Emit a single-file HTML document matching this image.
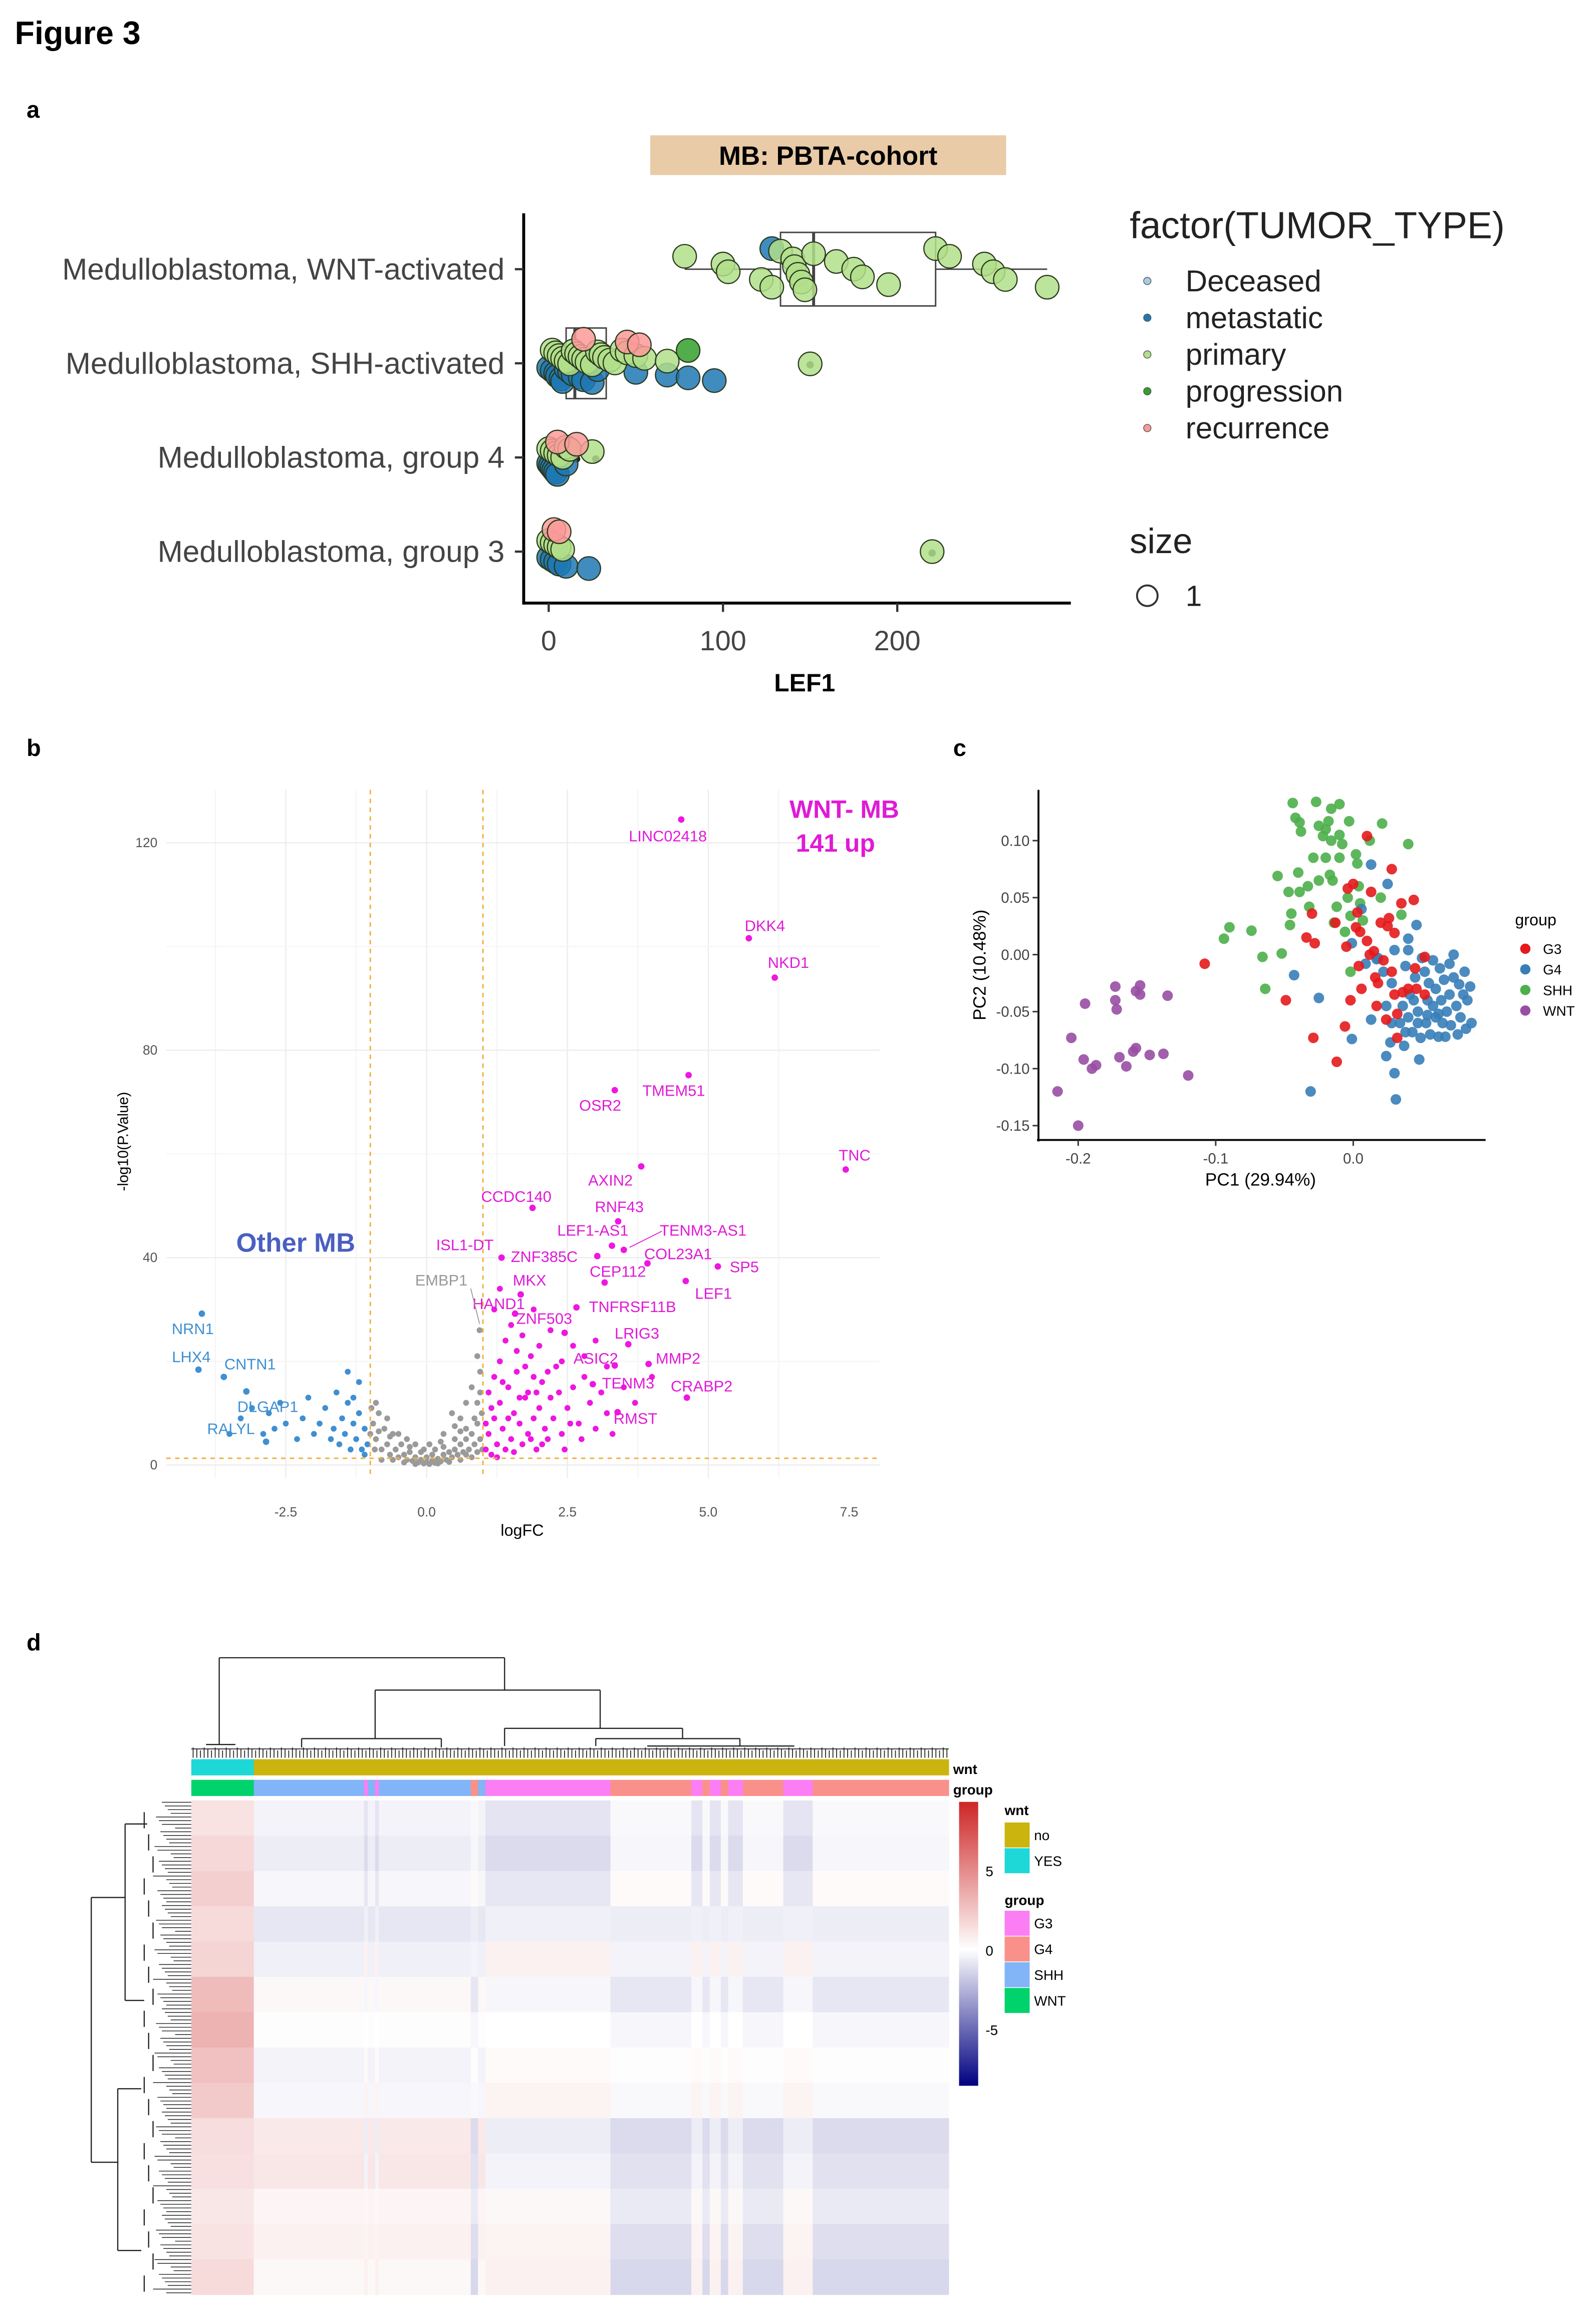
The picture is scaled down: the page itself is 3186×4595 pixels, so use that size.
<!DOCTYPE html>
<html><head><meta charset="utf-8"><style>
html,body{margin:0;padding:0;background:#fff;}
svg{display:block;font-family:"Liberation Sans",Arial,sans-serif;}
</style></head><body>
<svg id="fig" width="3186" height="4595" viewBox="0 0 1085 1565" xmlns="http://www.w3.org/2000/svg">
<rect width="1085" height="1565" fill="#fff"/>
<text x="10" y="30" font-size="22" font-weight="bold">Figure 3</text>
<text x="18" y="80" font-size="16" font-weight="bold">a</text>
<text x="18" y="514" font-size="16" font-weight="bold">b</text>
<text x="648" y="514" font-size="16" font-weight="bold">c</text>
<text x="18" y="1122" font-size="16" font-weight="bold">d</text>
<g id="pa"></g>
<g id="pb"></g>
<g id="pc"></g>
<g id="pd"></g>
</svg>
<script>
// ---------- Panel a data ----------
var aCategories = ["Medulloblastoma, WNT-activated","Medulloblastoma, SHH-activated","Medulloblastoma, group 4","Medulloblastoma, group 3"];
var aTypes = ["Deceased","metastatic","primary","progression","recurrence"];
var aTicks = [0,100,200];
var aWntPoints = [[128,"M"],[78,"P"],[100,"P"],[103,"P"],[122,"P"],[128,"P"],[133,"P"],[140,"P"],[141,"P"],[143,"P"],[145,"P"],[147,"P"],[152,"P"],[165,"P"],[175,"P"],[180,"P"],[195,"P"],[222,"P"],[230,"P"],[250,"P"],[255,"P"],[262,"P"],[286,"P"]];
var aShhPoints = [[0,"M"],[2,"M"],[4,"M"],[5,"M"],[7,"M"],[8,"M"],[10,"M"],[12,"M"],[14,"M"],[18,"M"],[20,"M"],[25,"M"],[28,"M"],[50,"M"],[68,"M"],[80,"M"],[95,"M"],[2,"P"],[4,"P"],[6,"P"],[8,"P"],[10,"P"],[12,"P"],[14,"P"],[16,"P"],[18,"P"],[20,"P"],[22,"P"],[25,"P"],[28,"P"],[30,"P"],[32,"P"],[35,"P"],[38,"P"],[42,"P"],[45,"P"],[50,"P"],[55,"P"],[68,"P"],[150,"P"],[20,"R"],[45,"R"],[52,"R"],[80,"G"]];
var aG4Points = [[0,"M"],[1,"M"],[2,"M"],[3,"M"],[4,"M"],[5,"M"],[10,"M"],[0,"P"],[2,"P"],[4,"P"],[6,"P"],[8,"P"],[10,"P"],[12,"P"],[25,"P"],[5,"R"],[16,"R"]];
var aG3Points = [[0,"M"],[2,"M"],[4,"M"],[6,"M"],[10,"M"],[23,"M"],[0,"P"],[2,"P"],[4,"P"],[6,"P"],[8,"P"],[220,"P"],[3,"R"],[6,"R"]];
var aBoxes = [[78,133,152,222,286],[0,10,15,33,55],[0,1,3,6,12],[0,1,3,5,8]];
var aOutliers = [[150,1],[16,2],[27,2],[220,3]];

// ---------- Panel b data ----------
var bXTicks = [-2.5,0.0,2.5,5.0,7.5];
var bYTicks = [0,40,80,120];
var bGrey = [[-0.95,8],[-0.9,5],[-0.85,10],[-0.8,3],[-0.75,7],[-0.7,4],[-0.65,2],[-0.6,6],[-0.55,3],[-0.5,1.5],[-0.45,4],[-0.4,2],[-0.35,1],[-0.3,2.5],[-0.25,0.8],[-0.2,1.5],[-0.15,0.5],[-0.1,1],[-0.05,0.3],[0,0.6],[0.05,0.2],[0.1,0.9],[0.15,0.4],[0.2,1.2],[0.25,0.7],[0.3,2],[0.35,1],[0.4,2.5],[0.45,1.5],[0.5,3],[0.55,2],[0.6,4],[0.65,2.5],[0.7,5],[0.75,3],[0.8,6],[0.85,4],[0.9,8],[0.95,5],[0.98,10],[-0.6,1],[-0.4,0.5],[-0.2,0.2],[0.2,0.3],[0.4,0.6],[0.6,1],[0.8,1.5],[-0.8,1],[-0.3,3.5],[0.3,3.5],[0.5,5],[0.7,7],[0.9,12],[-0.9,12],[0.1,2],[-0.1,2.5],[0.0,1.5],[0.6,6.5],[0.85,9],[0.95,14],[0.95,18],[0.9,21],[0.45,10],[0.05,4],[-0.5,6],[-0.7,9],[-1.0,6],[-0.98,11],[-0.92,3],[0.7,12],[0.8,15],[0.6,9],[0.3,6],[-0.2,4],[-0.35,5],[0.15,3],[0.25,4.5],[-0.05,3],[0.5,7.5],[0.7,2],[-0.65,5.5],[-0.85,6.5],[0.9,2.5],[0.99,3],[0.94,26]];
var bUp = [[1.05,3],[1.1,6],[1.15,2],[1.2,9],[1.25,4],[1.3,12],[1.35,7],[1.4,3],[1.45,15],[1.5,5],[1.55,10],[1.6,18],[1.65,8],[1.7,4],[1.75,13],[1.8,6],[1.85,21],[1.9,9],[1.95,3],[2.0,11],[2.05,16],[2.1,7],[2.15,5],[2.2,13],[2.25,9],[2.3,19],[2.4,6],[2.5,11],[2.6,15],[2.7,8],[2.8,17],[2.9,12],[3.0,7],[3.1,14],[3.2,10],[1.1,14],[1.2,17],[1.3,20],[1.4,24],[1.5,27],[1.6,22],[1.7,25],[1.8,14],[1.9,17],[2.0,23],[2.2,26],[2.4,20],[2.6,23],[2.8,21],[3.0,24],[3.2,19],[3.5,15],[3.7,12],[4.0,17],[1.05,8],[1.15,11],[1.25,1.5],[1.35,16],[1.45,9],[1.55,2.5],[1.65,13],[1.75,19],[1.85,5],[1.95,14],[2.05,4],[2.15,18],[2.35,14],[2.45,3],[2.55,8],[2.75,5],[3.3,6],[1.2,30],[1.3,34],[1.9,30]];
var bDown = [[-1.05,4],[-1.1,7],[-1.15,3],[-1.2,10],[-1.25,5],[-1.3,8],[-1.35,3],[-1.4,12],[-1.45,6],[-1.5,9],[-1.55,4],[-1.6,14],[-1.65,7],[-1.7,5],[-1.8,11],[-1.9,8],[-2.0,6],[-2.1,13],[-2.2,9],[-2.3,5],[-2.5,8],[-2.6,12],[-2.7,7],[-2.8,10],[-2.9,6],[-3.1,11],[-3.3,9],[-3.5,6],[-1.2,16],[-1.4,18],[-1.1,2],[-1.3,13]];
var bUpGenes = ["LINC02418","DKK4","NKD1","TMEM51","OSR2","TNC","AXIN2","RNF43","CCDC140","LEF1-AS1","ISL1-DT","ZNF385C","COL23A1","CEP112","SP5","MKX","LEF1","HAND1","TNFRSF11B","ZNF503","LRIG3","ASIC2","MMP2","TENM3","CRABP2","RMST","TENM3-AS1"];
var bUpLogFC = [4.52,5.72,6.18,4.65,3.34,7.44,3.81,3.4,1.88,3.29,1.33,3.03,3.92,3.16,5.17,1.67,4.6,1.57,2.66,2.45,3.58,3.34,3.94,2.95,4.62,3.39,3.5];
var bUpLogP = [124.5,101.6,94.0,75.2,72.3,57.0,57.6,47,49.6,42.3,40.0,40.3,38.9,35.2,38.3,32.9,35.5,29.2,30.4,25.5,23.3,19.2,19.5,15.6,13.0,10.2,41.5];
var bDownGenes = ["NRN1","LHX4","CNTN1","DLGAP1","RALYL"];
var bDownLogFC = [-3.99,-4.05,-3.6,-3.2,-2.85];
var bDownLogP = [29.2,18.4,17,14.2,4.5];

// ---------- Panel c data ----------
var cXTicks = [-0.2,-0.1,0.0];
var cYTicks = [0.10,0.05,0.00,-0.05,-0.10,-0.15];
var cGroups = ["G3","G4","SHH","WNT"];
var cWNT = [[-0.215,-0.12],[-0.2,-0.15],[-0.205,-0.073],[-0.196,-0.092],[-0.19,-0.1],[-0.187,-0.097],[-0.195,-0.043],[-0.173,-0.028],[-0.173,-0.04],[-0.172,-0.048],[-0.17,-0.09],[-0.165,-0.098],[-0.16,-0.085],[-0.158,-0.032],[-0.155,-0.027],[-0.155,-0.035],[-0.148,-0.088],[-0.138,-0.087],[-0.135,-0.036],[-0.12,-0.106],[-0.158,-0.082]];
var cSHH = [[-0.094,0.014],[-0.09,0.024],[-0.074,0.021],[-0.066,-0.002],[-0.052,0.001],[-0.064,-0.03],[-0.055,0.069],[-0.047,0.055],[-0.039,0.055],[-0.045,0.036],[-0.04,0.072],[-0.046,0.026],[-0.042,0.12],[-0.044,0.133],[-0.039,0.116],[-0.038,0.108],[-0.032,0.042],[-0.033,0.06],[-0.029,0.085],[-0.027,0.134],[-0.025,0.113],[-0.025,0.065],[-0.022,0.104],[-0.02,0.11],[-0.02,0.085],[-0.018,0.117],[-0.016,0.1],[-0.016,0.128],[-0.015,0.065],[-0.014,0.028],[-0.012,0.042],[-0.01,0.105],[-0.01,0.132],[-0.01,0.085],[-0.008,0.097],[-0.006,0.02],[-0.004,0.05],[-0.003,0.117],[-0.002,0.034],[0.002,0.088],[0.003,0.08],[0.005,0.045],[0.007,0.03],[0.012,0.1],[0.02,0.05],[0.021,0.115],[0.035,0.035],[0.04,0.097],[-0.002,-0.015],[-0.017,0.07],[0.004,0.06]];
var cG3 = [[-0.108,-0.008],[-0.049,-0.04],[-0.034,0.015],[-0.03,0.036],[-0.028,0.01],[-0.029,-0.073],[-0.013,0.028],[-0.012,-0.094],[-0.005,0.007],[-0.006,-0.063],[-0.004,0.058],[-0.002,-0.04],[0.0,0.062],[0.002,0.024],[0.003,0.037],[0.004,-0.01],[0.005,0.02],[0.006,-0.03],[0.01,0.012],[0.01,0.104],[0.013,0.055],[0.015,0.003],[0.016,-0.02],[0.017,-0.045],[0.018,-0.025],[0.02,0.028],[0.022,-0.005],[0.025,0.025],[0.026,0.032],[0.028,-0.015],[0.028,0.075],[0.03,0.019],[0.03,-0.035],[0.032,-0.052],[0.032,-0.073],[0.036,-0.033],[0.04,-0.03],[0.044,0.048],[0.045,-0.012],[0.046,-0.03],[0.052,-0.035],[0.052,-0.002],[0.035,0.045],[0.012,0.0],[0.024,-0.057]];
var cG4 = [[-0.043,-0.018],[-0.025,-0.038],[-0.031,-0.12],[-0.001,-0.074],[-0.001,0.01],[0.006,0.04],[0.009,-0.008],[0.013,0.079],[0.013,-0.057],[0.017,-0.004],[0.018,-0.003],[0.022,-0.015],[0.024,-0.045],[0.025,0.062],[0.024,-0.089],[0.027,-0.077],[0.028,-0.06],[0.028,-0.025],[0.03,-0.104],[0.031,-0.127],[0.03,0.004],[0.034,-0.06],[0.036,-0.045],[0.037,-0.08],[0.038,-0.01],[0.04,0.004],[0.04,-0.055],[0.04,0.014],[0.041,-0.035],[0.043,-0.068],[0.044,-0.04],[0.045,-0.02],[0.046,0.026],[0.047,-0.05],[0.048,-0.092],[0.049,-0.073],[0.05,-0.003],[0.052,-0.015],[0.053,-0.06],[0.054,-0.04],[0.055,-0.025],[0.056,-0.07],[0.058,-0.005],[0.058,-0.045],[0.06,-0.055],[0.06,-0.03],[0.062,-0.072],[0.063,-0.012],[0.064,-0.04],[0.065,-0.06],[0.066,-0.022],[0.067,-0.072],[0.068,-0.05],[0.07,-0.008],[0.07,-0.035],[0.071,-0.062],[0.073,-0.02],[0.073,0.0],[0.075,-0.045],[0.076,-0.07],[0.077,-0.026],[0.078,-0.055],[0.08,-0.035],[0.081,-0.015],[0.082,-0.065],[0.083,-0.04],[0.085,-0.028],[0.086,-0.06],[0.054,-0.053],[0.047,-0.06],[0.038,-0.068],[0.062,-0.052]];

// ---------- Panel d data ----------
var dGroupNames = ["WNT","SHH","G3","G4"];
var dColumnRuns = [["WNT",17],["SHH",30],["G3",1],["SHH",2],["G3",1],["SHH",25],["G4",2],["SHH",2],["G3",34],["G4",22],["G3",3],["G4",2],["G3",3],["G4",2],["G3",4],["G4",11],["G3",8],["G4",37]];
var dRowBlocks = [
 [1.2,-0.4,-0.9,-0.2],
 [1.6,-0.6,-1.2,-0.3],
 [2.0,-0.3,-0.8,0.2],
 [1.5,-0.8,-0.5,-0.6],
 [1.8,-0.5,0.6,-0.4],
 [2.8,0.3,-0.3,-0.8],
 [3.2,0.1,0.0,-0.3],
 [2.6,-0.4,0.2,0.1],
 [2.2,-0.3,0.5,-0.2],
 [1.4,0.9,-0.6,-1.2],
 [1.3,1.0,-0.4,-1.0],
 [1.0,0.4,0.3,-0.7],
 [1.2,0.6,0.5,-1.1],
 [1.5,0.3,0.6,-1.3]
];
var dColorTicks = [5,0,-5];

var NS="http://www.w3.org/2000/svg";
function mk(tag, parent, attrs){var e=document.createElementNS(NS,tag);for(var k in attrs)e.setAttribute(k,attrs[k]);parent.appendChild(e);return e;}
function txt(parent,x,y,s,size,extra){var a={x:x,y:y,"font-size":size};for(var k in extra)a[k]=extra[k];var t=mk("text",parent,a);t.textContent=s;return t;}

// ===== Panel a =====
(function(){
 var g=document.getElementById("pa");
 var xa=function(v){return 373+v*1.185;};
 var catY=[183,247,311,375];
 var typeCol={D:"#a6cee3",M:"#1f78b4",P:"#b2df8a",G:"#33a02c",R:"#fb9a99"};
 var typeOff={D:0,M:8,P:-4,G:-10,R:-12};
 var tb=mk("rect",g,{x:442,y:92,width:242,height:27,fill:"#e9cba7"});
 
 
 var tt=txt(g,563,112,"MB: PBTA-cohort",18,{"text-anchor":"middle","font-weight":"bold"});
 
 
 mk("line",g,{x1:356,y1:145,x2:356,y2:411,stroke:"#000","stroke-width":2});
 mk("line",g,{x1:355,y1:410,x2:728,y2:410,stroke:"#000","stroke-width":2});
 aCategories.forEach(function(c,i){
  mk("line",g,{x1:350,y1:catY[i],x2:356,y2:catY[i],stroke:"#333","stroke-width":1.5});
  var t=txt(g,343,catY[i]+7,c,20.5,{"text-anchor":"end",fill:"#444"});
  
  
 });
 aTicks.forEach(function(v){
  mk("line",g,{x1:xa(v),y1:410,x2:xa(v),y2:416,stroke:"#333","stroke-width":1.5});
  var t=txt(g,xa(v),442,String(v),19,{"text-anchor":"middle",fill:"#444"});
  
  
 });
 var xt=txt(g,547,470,"LEF1",17,{"text-anchor":"middle","font-weight":"bold"});
 
 
 var bh=[25,24,8,8];
 aBoxes.forEach(function(b,i){
  var y=catY[i];
  var bg=mk("g",g,{stroke:"#444","stroke-width":1,fill:"none"});
  
  
  mk("line",bg,{x1:xa(b[0]),y1:y,x2:xa(b[1]),y2:y});
  mk("line",bg,{x1:xa(b[3]),y1:y,x2:xa(b[4]),y2:y});
  mk("rect",bg,{x:xa(b[1]),y:y-bh[i],width:xa(b[3])-xa(b[1]),height:bh[i]*2});
  mk("line",bg,{x1:xa(b[2]),y1:y-bh[i],x2:xa(b[2]),y2:y+bh[i],"stroke-width":2});
 });
 aOutliers.forEach(function(o){
  var d=mk("circle",g,{cx:xa(o[0]),cy:catY[o[1]]+1,r:2.5,fill:"#222"});
  
  
 });
 var sets=[aWntPoints,aShhPoints,aG4Points,aG3Points];
 var amp=[14,5,4,4];
 sets.forEach(function(s,ci){
  s.forEach(function(p,j){
   var jit=((j*37)%17-8)/8*amp[ci];
   var off=ci==0?0:typeOff[p[1]];
   var c=mk("circle",g,{cx:xa(p[0]),cy:catY[ci]+off+jit,r:8,fill:typeCol[p[1]],"fill-opacity":0.85,stroke:"#2b3a1f","stroke-width":0.8});
   
   
  });
 });
 var lt=txt(g,768,162,"factor(TUMOR_TYPE)",25.5,{fill:"#222"});
 
 
 var keys=["D","M","P","G","R"];
 aTypes.forEach(function(n,i){
  var y=191+i*25;
  var d=mk("circle",g,{cx:780,cy:y,r:2.5,fill:typeCol[keys[i]],stroke:"#555","stroke-width":0.5});
  
  
  var t=txt(g,806,y+7,n,20.5,{fill:"#222"});
  
  
 });
 var st=txt(g,768,376,"size",24,{fill:"#222"});
 
 
 mk("circle",g,{cx:780,cy:405,r:7,fill:"none",stroke:"#333","stroke-width":1.3});
 var s1=txt(g,806,412,"1",20,{fill:"#222"});
 
 
})();

// ===== Panel b =====
(function(){
 var g=document.getElementById("pb");
 var xs=function(v){return 290+v*38.3;};
 var ys=function(v){return 996-v*3.525;};
 for(var i=0;i<9;i++){var v=-3.75+i*1.25;if(xs(v)<113||xs(v)>598)continue;mk("line",g,{x1:xs(v),y1:537,x2:xs(v),y2:1005,stroke:i%2?"#ececec":"#f5f5f5","stroke-width":0.8});}
 for(var j=0;j<7;j++){var w=j*20;mk("line",g,{x1:113,y1:ys(w),x2:598,y2:ys(w),stroke:j%2?"#f5f5f5":"#ececec","stroke-width":0.8});}
 bXTicks.forEach(function(v){var t=txt(g,xs(v),1031,v.toFixed(1),9,{"text-anchor":"middle",fill:"#555"});});
 bYTicks.forEach(function(v){var t=txt(g,107,ys(v)+3,String(v),9,{"text-anchor":"end",fill:"#555"});});
 var xt=txt(g,355,1044,"logFC",11,{"text-anchor":"middle"});
 var yt=txt(g,87,776,"-log10(P.Value)",10,{"text-anchor":"middle",transform:"rotate(-90 87 776)"});
 function pts(arr,col,name){arr.forEach(function(p){var c=mk("circle",g,{cx:xs(p[0]),cy:ys(p[1]),r:2,fill:col});});}
 pts(bGrey,"#9a9a9a","ns-point");
 pts(bDown,"#3f8fd2","down-point");
 pts(bUp,"#ee16e0","up-point");
 [xs(-1),xs(1)].forEach(function(x){var l=mk("line",g,{x1:x,y1:537,x2:x,y2:1005,stroke:"#f0b040","stroke-width":1,"stroke-dasharray":"3,3"});});
 var hl=mk("line",g,{x1:113,y1:ys(1.3),x2:598,y2:ys(1.3),stroke:"#f0b040","stroke-width":1,"stroke-dasharray":"3,3"});
 
 
 var upLab={"LINC02418":[454,572],"DKK4":[520,633],"NKD1":[536,658],"TMEM51":[458,745],"OSR2":[408,755],"TNC":[581,789],"AXIN2":[415,806],"RNF43":[421,824],"CCDC140":[351,817],"LEF1-AS1":[403,840],"ISL1-DT":[316,850],"ZNF385C":[370,858],"COL23A1":[461,856],"CEP112":[420,868],"SP5":[506,865],"MKX":[360,874],"LEF1":[485,883],"HAND1":[339,890],"TNFRSF11B":[430,892],"ZNF503":[370,900],"LRIG3":[433,910],"ASIC2":[405,927],"MMP2":[461,927],"TENM3":[427,944],"CRABP2":[477,946],"RMST":[432,968],"TENM3-AS1":[478,840]};
 bUpGenes.forEach(function(n,i){
  var c=mk("circle",g,{cx:xs(bUpLogFC[i]),cy:ys(bUpLogP[i]),r:2.2,fill:"#ee16e0"});
  
  
  var L=upLab[n];
  var t=txt(g,L[0],L[1],n,10.5,{"text-anchor":"middle",fill:"#e01ad6"});
  
  
 });
 mk("line",g,{x1:450,y1:837,x2:428,y2:848,stroke:"#e01ad6","stroke-width":0.6});
 var downLab={"NRN1":[131,907],"LHX4":[130,926],"CNTN1":[170,931],"DLGAP1":[182,960],"RALYL":[157,975]};
 bDownGenes.forEach(function(n,i){
  var c=mk("circle",g,{cx:xs(bDownLogFC[i]),cy:ys(bDownLogP[i]),r:2.2,fill:"#3f8fd2"});
  
  
  var L=downLab[n];
  var t=txt(g,L[0],L[1],n,10.5,{"text-anchor":"middle",fill:"#3f8fd2"});
  
  
 });
 var e=txt(g,300,874,"EMBP1",10.5,{"text-anchor":"middle",fill:"#999"});
 
 
 mk("line",g,{x1:320,y1:876,x2:326,y2:900,stroke:"#999","stroke-width":0.6});
 var w1=txt(g,574,556,"WNT- MB",17,{"text-anchor":"middle",fill:"#e01ad6","font-weight":"bold"});
 
 
 var w2=txt(g,568,579,"141 up",17,{"text-anchor":"middle",fill:"#e01ad6","font-weight":"bold"});
 
 
 var o=txt(g,201,851,"Other MB",18,{"text-anchor":"middle",fill:"#4a5fc1","font-weight":"bold"});
 
 
})();

// ===== Panel c =====
(function(){
 var g=document.getElementById("pc");
 var xs=function(v){return 920+v*935;};
 var ys=function(v){return 649-v*775;};
 mk("line",g,{x1:706,y1:537,x2:706,y2:776,stroke:"#000","stroke-width":1.3});
 mk("line",g,{x1:705,y1:775,x2:1010,y2:775,stroke:"#000","stroke-width":1.3});
 cXTicks.forEach(function(v){mk("line",g,{x1:xs(v),y1:775,x2:xs(v),y2:779,stroke:"#333"});var t=txt(g,xs(v),791,v.toFixed(1),10,{"text-anchor":"middle",fill:"#444"});});
 cYTicks.forEach(function(v){mk("line",g,{x1:702,y1:ys(v),x2:706,y2:ys(v),stroke:"#333"});var t=txt(g,700,ys(v)+3.5,v.toFixed(2),10,{"text-anchor":"end",fill:"#444"});});
 var xt=txt(g,857,806,"PC1 (29.94%)",12,{"text-anchor":"middle"});
 var yt=txt(g,670,656,"PC2 (10.48%)",12,{"text-anchor":"middle",transform:"rotate(-90 670 656)"});
 var cols={G3:"#e41a1c",G4:"#377eb8",SHH:"#4daf4a",WNT:"#984ea3"};
 var sets={WNT:cWNT,SHH:cSHH,G3:cG3,G4:cG4};
 ["WNT","SHH","G4","G3"].forEach(function(k){
  sets[k].forEach(function(p){var c=mk("circle",g,{cx:xs(p[0]),cy:ys(p[1]),r:3.6,fill:cols[k],"fill-opacity":0.9});});
 });
 var lt=txt(g,1030,629,"group",11,{});
 cGroups.forEach(function(n,i){var y=645+i*14;mk("circle",g,{cx:1037,cy:y,r:3.5,fill:cols[n]});var t=txt(g,1049,y+3.5,n,9.5,{});});
})();

// ===== Panel d =====
(function(){
 var g=document.getElementById("pd");
 var x0=130,x1=645,y0=1224,y1=1560;
 var total=0;dColumnRuns.forEach(function(r){total+=r[1];});
 var cw=(x1-x0)/total;
 var grpCol={WNT:"#00d36b",SHH:"#82b4f8",G3:"#fb7ef5",G4:"#f9918a"};
 function col(v){
  if(v>=0){var t=Math.min(v/9,1);var r=255+(205-255)*t,gg=255+(38-255)*t,b=255+(38-255)*t;return "rgb("+Math.round(r)+","+Math.round(gg)+","+Math.round(b)+")";}
  var s=Math.min(-v/8.5,1);return "rgb("+Math.round(255*(1-s))+","+Math.round(255*(1-s))+","+Math.round(255+(128-255)*s)+")";
 }
 var rh=(y1-y0)/dRowBlocks.length;
 var ci=0;
 dColumnRuns.forEach(function(r){
  var x=x0+ci*cw,w=r[1]*cw;
  var gi=dGroupNames.indexOf(r[0]);
  var a=mk("rect",g,{x:x,y:1196,width:w+0.2,height:11,fill:r[0]=="WNT"?"#1ed8d8":"#ccb40e"});
  
  
  var b=mk("rect",g,{x:x,y:1210,width:w+0.2,height:11,fill:grpCol[r[0]]});
  
  
  dRowBlocks.forEach(function(row,ri){
   var c=mk("rect",g,{x:x,y:y0+ri*rh,width:w+0.2,height:rh+0.2,fill:col(row[gi])});
   
   
  });
  ci+=r[1];
 });
 var dg=mk("g",g,{stroke:"#222","stroke-width":0.8,fill:"none"});
 
 
 var segs=[[149,1127,343,1127],[149,1127,149,1186],[343,1127,343,1149],[255,1149,408,1149],[255,1149,255,1182],[408,1149,408,1175],[343,1175,464,1175],[343,1175,343,1187],[464,1175,464,1182],[405,1182,503,1182],[405,1182,405,1187],[503,1182,503,1187],[205,1182,300,1182],[205,1182,205,1188],[300,1182,300,1188],[140,1186,160,1186],[440,1187,480,1187],[480,1187,540,1187]];
 segs.forEach(function(s){mk("line",dg,{x1:s[0],y1:s[1],x2:s[2],y2:s[3]});});
 for(var k=0;k<total;k++){var xx=x0+(k+0.5)*cw;mk("line",dg,{x1:xx,y1:1188+(k%3),x2:xx,y2:1195,"stroke-width":0.6});}
 mk("line",dg,{x1:x0,y1:1189,x2:x1,y2:1189,"stroke-width":0.6});
 var rg=mk("g",g,{stroke:"#222","stroke-width":0.8,fill:"none"});
 
 
 var rsegs=[[62,1290,62,1470],[62,1290,85,1290],[62,1470,80,1470],[85,1240,85,1360],[85,1240,100,1240],[85,1360,98,1360],[80,1420,80,1530],[80,1420,96,1420],[80,1530,96,1530]];
 rsegs.forEach(function(s){mk("line",rg,{x1:s[0],y1:s[1],x2:s[2],y2:s[3]});});
 for(var r2=0;r2<134;r2++){var yy=y0+(r2+0.5)*(y1-y0)/134;mk("line",rg,{x1:110+(r2%4)*3-(r2%7),y1:yy,x2:130,y2:yy,"stroke-width":0.5});}
 for(var r3=0;r3<22;r3++){var yb=y0+8+r3*15;mk("line",rg,{x1:98+(r3%3)*3,y1:yb,x2:98+(r3%3)*3,y2:yb+11});}
 var t1=txt(g,648,1206,"wnt",9.5,{"font-weight":"bold"});
 var t2=txt(g,648,1220,"group",9.5,{"font-weight":"bold"});
 var defs=mk("defs",g,{});
 var lg=mk("linearGradient",defs,{id:"cb",x1:0,y1:0,x2:0,y2:1});
 mk("stop",lg,{offset:"0",  "stop-color":"#cd2626"});
 mk("stop",lg,{offset:"0.52","stop-color":"#ffffff"});
 mk("stop",lg,{offset:"1",  "stop-color":"#000080"});
 var cb=mk("rect",g,{x:652,y:1225,width:13,height:193,fill:"url(#cb)"});
 
 
 dColorTicks.forEach(function(v){var t=txt(g,670,1326-v*10.8+3.5,String(v),9.5,{});});
 var l1=txt(g,683,1234,"wnt",9.5,{"font-weight":"bold"});
 [["no","#ccb40e"],["YES","#1ed8d8"]].forEach(function(p,i){mk("rect",g,{x:683,y:1239+i*17.5,width:17,height:17,fill:p[1]});var t=txt(g,703,1251+i*17.5,p[0],9.5,{});});
 var l2=txt(g,683,1295,"group",9.5,{"font-weight":"bold"});
 [["G3","#fb7ef5"],["G4","#f9918a"],["SHH","#82b4f8"],["WNT","#00d36b"]].forEach(function(p,i){mk("rect",g,{x:683,y:1299+i*17.5,width:17,height:17,fill:p[1]});var t=txt(g,703,1311+i*17.5,p[0],9.5,{});});
})();
</script>
</body></html>
